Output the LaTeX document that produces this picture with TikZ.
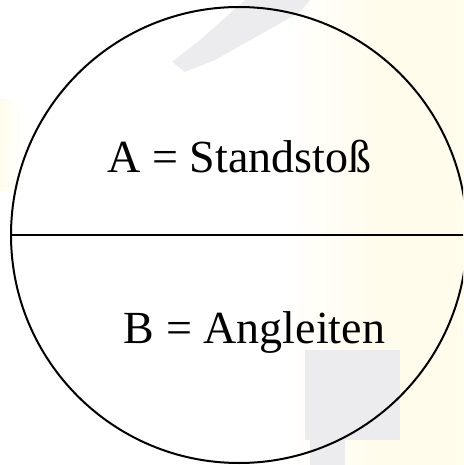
\documentclass[tikz,border=0pt]{standalone}
\usepackage{fontspec}
\setmainfont{Liberation Serif}
\definecolor{wmgray}{RGB}{236,236,238}
\definecolor{wmyellow}{RGB}{255,252,236}
\tikzset{
  divline/.style={line width=2pt, black},
  label/.style={anchor=base, inner sep=0pt, font=\fontsize{46}{52}\selectfont},
}
\begin{document}
\begin{tikzpicture}[x=1pt,y=-1pt]
\useasboundingbox (0,0) rectangle (463,465);
\clip (0,0) rectangle (463,465);
% faint watermark background
\shade[left color=white, right color=wmyellow] (280,0) rectangle (380,465);
\fill[wmyellow] (379,0) rectangle (463,465);
\shade[left color=wmyellow, right color=white] (0,100) rectangle (25,190);
\fill[wmgray] (172,62) -- (185,72) -- (215,60) -- (300,12) -- (310,0) -- (245,0) -- (200,40) -- cycle;
\fill[wmgray] (305,350) rectangle (400,440);
\fill[wmgray] (310,440) rectangle (345,465);
% circle and dividing line
\coordinate (C) at (239,235);
\draw[divline] (C) circle [radius=228];
\coordinate (L) at (11,235);
\coordinate (R) at (470,235);
\draw[divline] (L) -- (R);
\node[label] (a) at (239.5,172) {A = Standstoß};
\node[label] (b) at (254.5,343) {B = Angleiten};
\end{tikzpicture}
\end{document}
